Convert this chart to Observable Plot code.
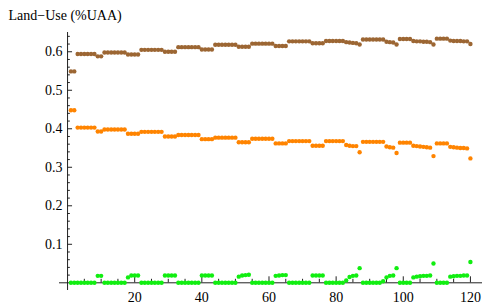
<!DOCTYPE html>
<html>
<head>
<meta charset="utf-8">
<script src="https://cdn.jsdelivr.net/npm/d3@7"></script>
<script src="https://cdn.jsdelivr.net/npm/@observablehq/plot@0.6"></script>
<style>
  html, body { margin: 0; padding: 0; background: white; }
</style>
</head>
<body>
<div id="chart"></div>
<script>
const title = "Land−Use (%UAA)";
const seriesNames = ["series A", "series B", "series C"];
const seriesColors = ["#9c6633", "#ff8400", "#11ee11"];

const seriesA = [
  0.549,0.549,0.594,0.594,0.594,0.594,0.594,0.594,0.588,0.588,
  0.598,0.598,0.598,0.598,0.598,0.598,0.598,0.593,0.593,0.593,
  0.593,0.605,0.605,0.605,0.605,0.605,0.605,0.605,0.600,0.600,
  0.600,0.600,0.612,0.612,0.612,0.612,0.612,0.612,0.612,0.606,
  0.606,0.606,0.606,0.618,0.618,0.618,0.618,0.618,0.618,0.618,
  0.613,0.613,0.613,0.613,0.621,0.621,0.621,0.621,0.621,0.621,
  0.621,0.615,0.615,0.615,0.615,0.627,0.627,0.627,0.627,0.627,
  0.627,0.627,0.622,0.622,0.622,0.622,0.628,0.628,0.628,0.628,
  0.628,0.628,0.625,0.624,0.623,0.622,0.619,0.632,0.632,0.632,
  0.632,0.632,0.632,0.632,0.626,0.625,0.624,0.619,0.633,0.633,
  0.633,0.633,0.628,0.627,0.627,0.626,0.626,0.625,0.619,0.634,
  0.634,0.634,0.634,0.629,0.628,0.628,0.628,0.627,0.627,0.620
];
const seriesB = [
  0.448,0.448,0.403,0.403,0.403,0.403,0.403,0.403,0.393,0.393,
  0.398,0.398,0.398,0.398,0.398,0.398,0.398,0.387,0.387,0.387,
  0.387,0.392,0.392,0.392,0.392,0.392,0.392,0.392,0.380,0.380,
  0.380,0.380,0.384,0.384,0.384,0.384,0.384,0.384,0.384,0.373,
  0.373,0.373,0.373,0.377,0.377,0.377,0.377,0.377,0.377,0.377,
  0.365,0.365,0.365,0.365,0.374,0.374,0.374,0.374,0.374,0.374,
  0.374,0.362,0.362,0.362,0.362,0.368,0.368,0.368,0.368,0.368,
  0.368,0.368,0.356,0.356,0.356,0.356,0.368,0.368,0.368,0.368,
  0.368,0.368,0.358,0.356,0.355,0.355,0.339,0.366,0.366,0.366,
  0.366,0.366,0.366,0.366,0.354,0.352,0.351,0.337,0.364,0.364,
  0.364,0.364,0.356,0.355,0.354,0.353,0.352,0.351,0.329,0.362,
  0.362,0.362,0.362,0.353,0.352,0.351,0.350,0.350,0.349,0.323
];
const seriesC = [
  0,0,0,0,0,0,0,0,0.018,0.018,
  0,0,0,0,0,0,0,0.014,0.019,0.019,
  0.019,0,0,0,0,0,0,0,0.019,0.019,
  0.019,0.019,0,0,0,0,0,0,0,0.019,
  0.019,0.019,0.019,0,0,0,0,0,0,0,
  0.016,0.019,0.020,0.021,0,0,0,0,0,0,
  0,0.018,0.019,0.020,0.020,0,0,0,0,0,
  0,0,0.019,0.019,0.019,0.019,0,0,0,0,
  0,0,0.006,0.015,0.018,0.019,0.038,0,0,0,
  0,0,0,0.004,0.014,0.018,0.019,0.038,0,0,
  0,0,0.014,0.016,0.017,0.018,0.018,0.019,0.050,0,
  0,0,0,0.016,0.017,0.018,0.018,0.019,0.019,0.054
];
const xMajorTicks = [20, 40, 60, 80, 100, 120];
const xMinorTicks = [5,10,15,25,30,35,45,50,55,65,70,75,85,90,95,105,110,115];
const yMajorTicks = [0.1, 0.2, 0.3, 0.4, 0.5, 0.6];
const yMinorTicks = [0.02,0.04,0.06,0.08,0.12,0.14,0.16,0.18,0.22,0.24,0.26,0.28,
  0.32,0.34,0.36,0.38,0.42,0.44,0.46,0.48,0.52,0.54,0.56,0.58,0.62,0.64];

const allSeries = [seriesA, seriesB, seriesC];
const data = [];
allSeries.forEach((vals, si) => {
  vals.forEach((v, i) => data.push({x: i + 1, y: v, s: seriesNames[si]}));
});

const W = 483, H = 307;
const mL = 59, mR = 1, mT = 32, mB = 17;
const xDom = [-2.4, 123.6], yDom = [-0.02, 0.65];
const pxY = (yDom[1] - yDom[0]) / (H - mT - mB);   // data units per pixel (y)
const pxX = (xDom[1] - xDom[0]) / (W - mL - mR);   // data units per pixel (x)
const axisColor = "#222";

const chart = Plot.plot({
  width: W, height: H,
  marginLeft: mL, marginRight: mR, marginTop: mT, marginBottom: mB,
  x: {domain: xDom, axis: null},
  y: {domain: yDom, axis: null},
  color: {type: "ordinal", domain: seriesNames, range: seriesColors},
  style: {background: "white", fontFamily: "'Liberation Serif', 'Times New Roman', serif", fontSize: "14px", color: "black"},
  marks: [
    Plot.ruleY([0], {x1: xDom[0], x2: xDom[1], stroke: axisColor, strokeWidth: 1}),
    Plot.ruleX([0], {y1: yDom[0], y2: yDom[1], stroke: axisColor, strokeWidth: 1}),
    Plot.ruleX(xMajorTicks, {x: d => d, y1: 0, y2: 6 * pxY, stroke: axisColor}),
    Plot.ruleX(xMinorTicks, {x: d => d, y1: 0, y2: 3.5 * pxY, stroke: axisColor}),
    Plot.ruleY(yMajorTicks, {y: d => d, x1: 0, x2: 5 * pxX, stroke: axisColor}),
    Plot.ruleY(yMinorTicks, {y: d => d, x1: 0, x2: 2.8 * pxX, stroke: axisColor}),
    Plot.text(xMajorTicks, {x: d => d, y: 0, dy: 14.5, text: d => String(d), fill: "black", fontSize: 14}),
    Plot.text(yMajorTicks, {x: 0, y: d => d, dx: -5, textAnchor: "end", text: d => d.toFixed(1), fill: "black", fontSize: 14}),
    Plot.dot(data, {x: "x", y: "y", fill: "s", r: 2.2, stroke: null}),
    Plot.text([title], {frameAnchor: "top-left", dx: 8 - mL, dy: 15 - mT, textAnchor: "start", lineAnchor: "middle", text: d => d, fill: "black", fontSize: 14})
  ]
});
document.getElementById("chart").appendChild(chart);
</script>
</body>
</html>
